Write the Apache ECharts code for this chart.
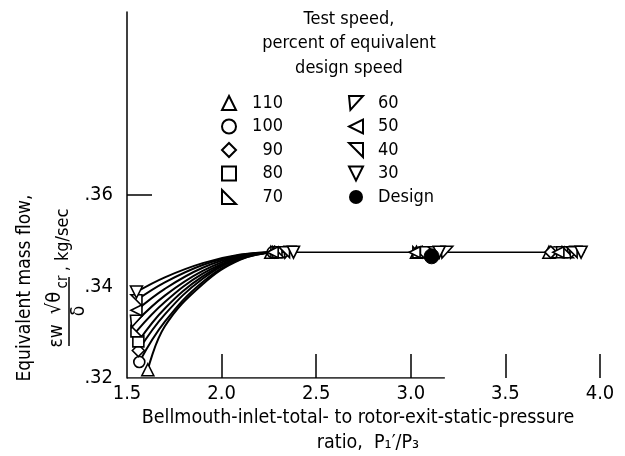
<!DOCTYPE html>
<html>
	<head>
		<meta charset="utf-8" />
		<title>Equivalent mass flow</title>
		<script src="https://cdn.jsdelivr.net/npm/echarts@6/dist/echarts.min.js"></script>
		<style>
			body { margin: 0; background: #fff; }
			#main { width: 625px; height: 456px; }
		</style>
	</head>
	<body>
		<div id="main"></div>
		<script>
			// test speeds, percent of design speed
			var speeds = ['110', '100', '90', '80', '70', '60', '50', '40', '30'];
			var symbols = [
				'triangle',
				'circle',
				'diamond',
				'rect',
				'path://M0,0L0,10L10,10Z',
				'path://M0,0L10,0L1,10Z',
				'path://M10,0L10,10L0,5Z',
				'path://M0,0L10,0L10,10Z',
				'path://M0,0L10,0L5,10Z'
			];
			var symbolSizes = [12, 11, 12, 11, 11, 12, 11, 11, 12];

			// faired curves: x of first point per speed, then shared x points
			var startX = [1.61, 1.565, 1.56, 1.56, 1.55, 1.55, 1.55, 1.55, 1.55];
			var curveX = [1.7, 1.9, 2.1, 2.28];
			var curveFlow = [
				[0.3218, 0.3313, 0.3405, 0.3459, 0.3475],
				[0.3235, 0.3323, 0.3410, 0.3460, 0.3475],
				[0.3260, 0.3339, 0.3417, 0.3462, 0.3475],
				[0.3280, 0.3352, 0.3422, 0.3463, 0.3475],
				[0.3302, 0.3366, 0.3428, 0.3464, 0.3475],
				[0.3324, 0.3380, 0.3434, 0.3466, 0.3475],
				[0.3348, 0.3395, 0.3441, 0.3467, 0.3475],
				[0.3370, 0.3409, 0.3447, 0.3469, 0.3475],
				[0.3388, 0.3420, 0.3451, 0.3470, 0.3475]
			];

			// choked points, three pressure ratios per speed
			var chokeX1 = [2.26, 2.27, 2.28, 2.29, 2.30, 2.36, 2.27, 2.33, 2.38];
			var chokeX2 = [3.03, 3.05, 3.06, 3.08, 3.04, 3.19, 3.02, 3.12, 3.15];
			var chokeX3 = [3.73, 3.76, 3.74, 3.80, 3.83, 3.87, 3.78, 3.85, 3.90];
			var chokeFlow = 0.3475;
			var chokeLineX = [2.28, 3.92];
			var designPoint = [3.11, 0.3466];
			var baselineEnd = 3.18;

			var xTicks = [2.0, 2.5, 3.0, 3.5, 4.0];
			var yTicks = [0.36];
			var yLabels = [0.32, 0.34, 0.36];

			var font = "'DejaVu Sans Condensed', 'Liberation Sans Narrow', 'DejaVu Sans', sans-serif";

			var series = [];
			// x-axis baseline only runs part way
			series.push({
				type: 'line', silent: true, symbol: 'none', z: 1,
				lineStyle: { color: '#000', width: 1.5 },
				data: [[1.5, 0.32], [baselineEnd, 0.32]]
			});
			series.push({
				type: 'line', silent: true, symbol: 'none', z: 2,
				lineStyle: { color: '#000', width: 1.5 },
				data: [[chokeLineX[0], chokeFlow], [chokeLineX[1], chokeFlow]]
			});
			speeds.forEach(function (s, i) {
				var pts = [[startX[i], curveFlow[i][0]]];
				curveX.forEach(function (x, j) { pts.push([x, curveFlow[i][j + 1]]); });
				series.push({
					type: 'line', silent: true, symbol: 'none', smooth: 0.4, z: 2,
					lineStyle: { color: '#000', width: 2 },
					data: pts
				});
			});
			speeds.forEach(function (s, i) {
				series.push({
					name: s,
					type: 'scatter',
					symbol: symbols[i],
					symbolSize: symbolSizes[i],
					z: 5,
					itemStyle: { color: '#fff', borderColor: '#000', borderWidth: 1.6, opacity: 1 },
					data: [
						[startX[i], curveFlow[i][0]],
						[chokeX1[i], chokeFlow],
						[chokeX2[i], chokeFlow],
						[chokeX3[i], chokeFlow]
					]
				});
			});
			series.push({
				name: 'Design',
				type: 'scatter',
				symbol: 'circle',
				symbolSize: 15,
				z: 6,
				itemStyle: { color: '#000', borderColor: '#000', opacity: 1 },
				data: [designPoint]
			});

			var legendBase = {
				orient: 'vertical',
				top: 89,
				itemWidth: 14,
				itemHeight: 14,
				itemGap: 5.5,
				selectedMode: false,
				textStyle: { color: '#000', fontSize: 18, fontFamily: font }
			};

			var option = {
				animation: false,
				backgroundColor: '#fff',
				title: {
					text: 'Test speed,\npercent of equivalent\ndesign speed',
					left: 344,
					top: 2,
					textAlign: 'center',
					textStyle: { color: '#000', fontSize: 18, fontWeight: 'normal', fontFamily: font, lineHeight: 24.5 }
				},
				legend: [
					Object.assign({}, legendBase, {
						left: 216,
						data: speeds.slice(0, 5),
						formatter: function (n) { return '{r|' + n + '}'; },
						textStyle: Object.assign({}, legendBase.textStyle, {
							rich: { r: { width: 42, align: 'right', fontSize: 18, fontFamily: font, color: '#000' } }
						})
					}),
					Object.assign({}, legendBase, {
						left: 343,
						data: speeds.slice(5).concat(['Design']),
						formatter: function (n) { return '{l|' + n + '}'; },
						textStyle: Object.assign({}, legendBase.textStyle, {
							rich: { l: { padding: [0, 0, 0, 10], fontSize: 18, fontFamily: font, color: '#000' } }
						})
					})
				],
				grid: { left: 127, right: 25, top: 12, bottom: 78 },
				xAxis: {
					type: 'value',
					min: 1.5,
					max: 4.0,
					interval: 0.5,
					splitLine: { show: false },
					axisLine: { show: false },
					axisTick: {
						show: true, inside: true, length: 24, customValues: xTicks,
						lineStyle: { color: '#000', width: 1.5 }
					},
					axisLabel: {
						color: '#000', fontSize: 20, fontFamily: font, margin: 6,
						formatter: function (v) { return v.toFixed(1); }
					}
				},
				yAxis: {
					type: 'value',
					min: 0.32,
					max: 0.40,
					interval: 0.02,
					splitLine: { show: false },
					axisLine: { show: true, lineStyle: { color: '#000', width: 1.5 } },
					axisTick: {
						show: true, inside: true, length: 25, customValues: yTicks,
						lineStyle: { color: '#000', width: 1.5 }
					},
					axisLabel: {
						color: '#000', fontSize: 20, fontFamily: font, margin: 14,
						customValues: yLabels,
						formatter: function (v) { return '.' + Math.round(v * 100); }
					}
				},
				graphic: [
					{ type: 'text', x: 358, y: 418, style: { text: 'Bellmouth-inlet-total- to rotor-exit-static-pressure', fill: '#000', font: '19.5px ' + font, align: 'center', verticalAlign: 'middle' } },
					{ type: 'text', x: 368, y: 443, style: { text: 'ratio,  P\u2081\u2032/P\u2083', fill: '#000', font: '19.5px ' + font, align: 'center', verticalAlign: 'middle' } },
					// y-axis title, rotated
					{ type: 'text', x: 25, y: 288, rotation: Math.PI / 2, style: { text: 'Equivalent mass flow,', fill: '#000', font: '19px ' + font, align: 'center', verticalAlign: 'middle' } },
					{ type: 'text', x: 57, y: 336, rotation: Math.PI / 2, style: { text: '\u03b5w', fill: '#000', font: '19px ' + font, align: 'center', verticalAlign: 'middle' } },
					{ type: 'text', x: 55, y: 303, rotation: Math.PI / 2, style: { text: '\u221a\u03b8', fill: '#000', font: '20px ' + font, align: 'center', verticalAlign: 'middle' } },
					{ type: 'text', x: 63, y: 282, rotation: Math.PI / 2, style: { text: 'cr', fill: '#000', font: '15px ' + font, align: 'center', verticalAlign: 'middle' } },
					{ type: 'line', shape: { x1: 69, y1: 277, x2: 69, y2: 346 }, style: { stroke: '#000', lineWidth: 1.5 } },
					{ type: 'text', x: 79, y: 311, rotation: Math.PI / 2, style: { text: '\u03b4', fill: '#000', font: '19px ' + font, align: 'center', verticalAlign: 'middle' } },
					{ type: 'text', x: 63, y: 240, rotation: Math.PI / 2, style: { text: ', kg/sec', fill: '#000', font: '18px ' + font, align: 'center', verticalAlign: 'middle' } }
				],
				series: series
			};

			var mycharts = echarts.init(document.getElementById('main'));
			mycharts.setOption(option);
		</script>
	</body>
</html>
